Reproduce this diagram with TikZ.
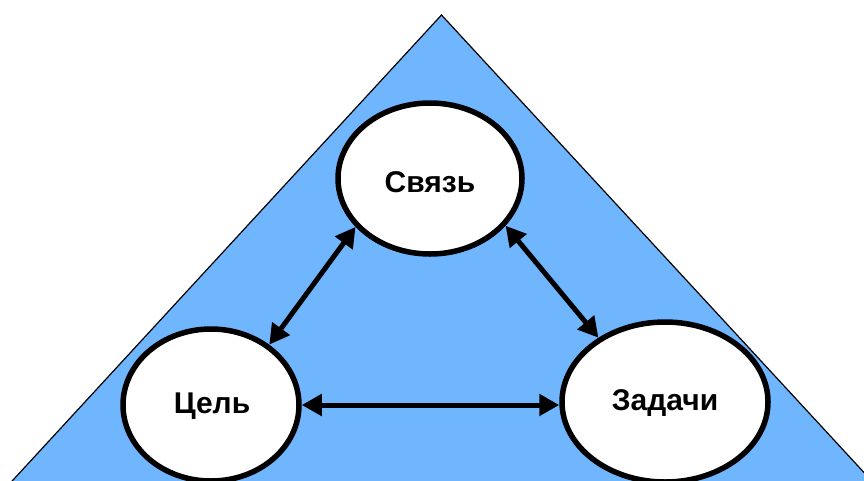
\documentclass[tikz,border=0pt]{standalone}
\usepackage{fontspec}
\setmainfont{Liberation Sans}
\usetikzlibrary{shapes.geometric,arrows.meta}
\definecolor{pyramidblue}{RGB}{112,182,255}
\tikzset{
  oval/.style={ellipse, draw=black, fill=white, line width=5.5pt, inner sep=0pt},
  label text/.style={font=\bfseries\fontsize{30}{34}\selectfont, inner sep=0pt},
  link/.style={line width=5pt, {Triangle[length=20pt,width=21pt]}-{Triangle[length=20pt,width=21pt]}}
}
\begin{document}
\begin{tikzpicture}[x=1pt,y=-1pt]
  \useasboundingbox (0,0) rectangle (864,480);
  \clip (0,0) rectangle (864,480);
  % the pyramid, its base lying below the lower edge
  \draw[fill=pyramidblue, line width=1.2pt, line join=miter]
    (441.5,15) -- (-10,505) -- (894,505) -- cycle;
  % the three ovals
  \node[oval, minimum width=184pt, minimum height=151pt] (svyaz) at (430,178.5) {};
  \node[oval, minimum width=176pt, minimum height=152pt] (cel) at (211,405) {};
  \node[oval, minimum width=206pt, minimum height=160pt] (zadachi) at (665,402) {};
  % labels
  \node[label text] (tsvyaz) at (430,182) {Связь};
  \node[label text] (tcel) at (212,406) {Цель};
  \node[label text] (tzad) at (665,403) {Задачи};
  % two-way connectors
  \draw[link] (svyaz.213) -- (cel.46);
  \draw[link] (svyaz.328) -- (zadachi.136);
  \draw[link] (cel.east) -- (cel.east -| zadachi.west);
\end{tikzpicture}
\end{document}
